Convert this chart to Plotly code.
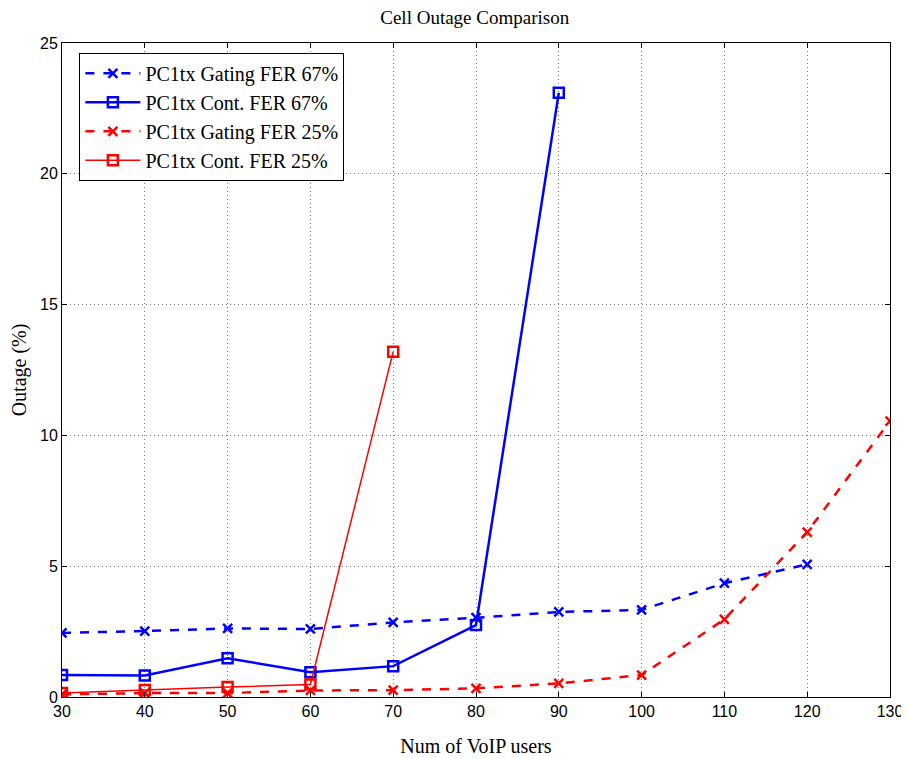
import plotly.graph_objects as go

# Number of VoIP users
users = [30, 40, 50, 60, 70, 80, 90, 100, 110, 120, 130]

# Outage (%)
gating_67 = [2.45, 2.52, 2.62, 2.6, 2.85, 3.03, 3.25, 3.33, 4.35, 5.07]
cont_67 = [0.84, 0.82, 1.48, 0.95, 1.18, 2.75, 23.1]
gating_25 = [0.1, 0.15, 0.15, 0.25, 0.26, 0.33, 0.52, 0.84, 2.97, 6.3, 10.55]
cont_25 = [0.15, 0.27, 0.38, 0.48, 13.2]

serif = "Times New Roman, Liberation Serif, serif"
sans = "Arial, Liberation Sans, sans-serif"

fig = go.Figure()

fig.add_trace(go.Scatter(
    x=users[:len(gating_67)], y=gating_67,
    mode="lines+markers",
    line=dict(color="blue", width=2.5, dash="dash"),
    marker=dict(symbol="x-thin-open", size=9, line=dict(color="blue", width=2.5)),
    name="PC1tx Gating FER 67%",
))
fig.add_trace(go.Scatter(
    x=users[:len(cont_67)], y=cont_67,
    mode="lines+markers",
    line=dict(color="blue", width=2.5),
    marker=dict(symbol="square-open", size=10, line=dict(color="blue", width=2.5)),
    name="PC1tx Cont. FER 67%",
))
fig.add_trace(go.Scatter(
    x=users[:len(gating_25)], y=gating_25,
    mode="lines+markers",
    line=dict(color="red", width=2.5, dash="dash"),
    marker=dict(symbol="x-thin-open", size=9, line=dict(color="red", width=2.5)),
    name="PC1tx Gating FER 25%",
))
fig.add_trace(go.Scatter(
    x=users[:len(cont_25)], y=cont_25,
    mode="lines+markers",
    line=dict(color="red", width=1.5),
    marker=dict(symbol="square-open", size=10, line=dict(color="red", width=2.5)),
    name="PC1tx Cont. FER 25%",
))

axis_common = dict(
    showline=True, linecolor="black", linewidth=1, mirror="ticks",
    ticks="inside", ticklen=5, tickcolor="black",
    showgrid=True, gridcolor="#777777", griddash="1px,3px", gridwidth=1,
    zeroline=False, automargin=False,
    tickfont=dict(family=sans, size=16, color="black"),
)

# the page body adds an 8px offset, so the figure is sized to fit inside it
fig.update_layout(
    width=901, height=750,
    margin=dict(l=54, r=19, t=35, b=61),
    paper_bgcolor="white", plot_bgcolor="white",
    title=dict(text="Cell Outage Comparison", x=0.518, xanchor="center", y=0.987, yanchor="middle",
               font=dict(family=serif, size=19, color="black")),
    xaxis=dict(range=[30, 130], tick0=30, dtick=10,
               title=dict(text="Num of VoIP users", font=dict(family=serif, size=20, color="black"), standoff=19),
               **axis_common),
    yaxis=dict(range=[0, 25], dtick=5,
               title=dict(text="Outage (%)", font=dict(family=serif, size=20, color="black"), standoff=8),
               **axis_common),
    legend=dict(x=0.021, y=0.985, xanchor="left", yanchor="top",
                bgcolor="white", bordercolor="black", borderwidth=1,
                font=dict(family=serif, size=20, color="black"),
                tracegroupgap=0, itemwidth=55),
    showlegend=True,
)

fig.write_html("out.html")
